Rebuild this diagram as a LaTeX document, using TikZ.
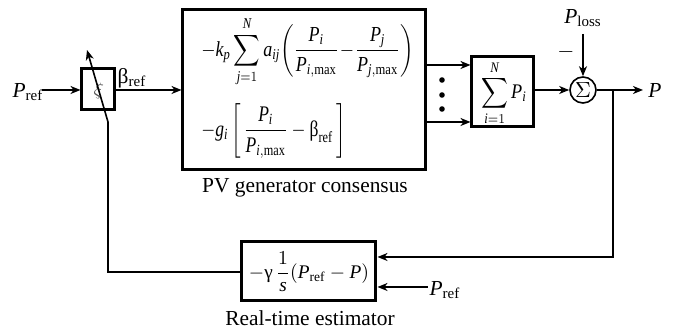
\documentclass[tikz,border=0pt]{standalone}
\usepackage{amsmath}
\usepackage{fontspec}
\setmainfont{Liberation Serif}
\usetikzlibrary{arrows.meta}
\newcommand{\mi}[1]{\mathit{#1}}
\newcommand{\rf}{\mathrm{ref}}
\begin{document}
\begin{tikzpicture}[x=0.5pt,y=-0.5pt,
  font=\fontsize{10.7}{13}\selectfont,
  blk/.style={draw,line width=1.5pt,inner sep=0pt},
  wire/.style={line width=0.8pt},
  arr/.style={wire,-{Stealth[length=5pt,width=4pt,inset=1.5pt]}},
  lbl/.style={inner sep=0pt}]
\useasboundingbox (0,0) rectangle (677,335);
% saturation block
\node[blk,minimum width=16.5pt,minimum height=20.5pt] (sat) at (98.5,89.5) {};
\node[lbl,rotate=-10,font=\fontsize{9}{9}\selectfont,gray!70!black] (xi) at (98.5,91) {$\xi$};
\node[lbl] (pref1) at (28,92) {$\mi{P}_{\rf}$};
\coordinate (pin) at (42,90);
\draw[arr] (pin) -- (sat.west |- pin);
\node[lbl] (bref) at (132,78) {β$_{\rf}$};
% big box
\node[blk,minimum width=121.5pt,minimum height=80pt] (pv) at (304.5,90) {};
\node[lbl,anchor=west,xscale=0.84,yscale=1.0] (eq1) at (201,52) {$-\mi{k}_{\mi{p}}\displaystyle\sum_{\mi{j}=1}^{\mi{N}}\mi{a}_{\mi{ij}}\!\left(\frac{\mi{P}_{\mi{i}}}{\mi{P}_{\mi{i},\max}}\!-\!\frac{\mi{P}_{\mi{j}}}{\mi{P}_{\mi{j},\max}}\right)$};
\node[lbl,anchor=west,xscale=0.82,yscale=1.04] (eq2) at (201,131) {$-\mi{g}_{\mi{i}}\left[\,\dfrac{\mi{P}_{\mi{i}}}{\mi{P}_{\mi{i},\max}}-\text{β}_{\rf}\,\right]$};
\node[lbl] (pvl) at (305,188) {PV generator consensus};
\coordinate (bin) at (98.5,90);
\draw[arr] (sat.east |- bin) -- (pv.west |- bin);
% sum box
\node[blk,minimum width=31pt,minimum height=35pt] (sb) at (503,92) {};
\node[lbl,xscale=0.85,yscale=0.97] (sbt) at (504,93) {$\displaystyle\sum_{\mi{i}=1}^{\mi{N}}\mi{P}_{\mi{i}}$};
\coordinate (o1) at (426,65);
\coordinate (o2) at (426,122);
\draw[arr] (o1) -- (sb.west |- o1);
\draw[arr] (o2) -- (sb.west |- o2);
\foreach \yy/\nm in {80/d1,95/d2,109/d3}{\fill (442,\yy) circle (1.4pt);}
% sum circle
\node[draw,circle,line width=0.8pt,minimum size=13pt,inner sep=0pt] (sc) at (583,90) {$\Sigma$};
\coordinate (sbo) at (534,90);
\draw[arr] (sbo) -- (sc.west);
\node[lbl] (ploss) at (583,18) {$\mi{P}_{\mathrm{loss}}$};
\coordinate (pl) at (583,34);
\draw[arr] (pl) -- (sc.north);
\node[lbl] (minus) at (566,52) {$-$};
\coordinate (pout) at (643,90);
\draw[arr] (sc.east) -- (pout);
\node[lbl] (P) at (655,91) {$\mi{P}$};
\coordinate (br) at (613,90);
% estimator
\node[blk,minimum width=67pt,minimum height=29.5pt] (est) at (309,271.5) {};
\node[lbl,scale=0.9] (estt) at (309,272) {$-\text{γ}\,\dfrac{1}{\mi{s}}(\mi{P}_{\rf}-\mi{P})$};
\node[lbl] (estl) at (310,318) {Real-time estimator};
\coordinate (fb1) at (613,257);
\draw[arr] (br) -- (fb1) -- (est.east |- fb1);
\node[lbl] (pref2) at (445,290) {$\mi{P}_{\rf}$};
\coordinate (pr2) at (428,287);
\draw[arr] (pr2) -- (est.east |- pr2);
% feedback to saturation
\coordinate (c1) at (108,272);
\coordinate (c2) at (108,122);
\coordinate (c3) at (87,50);
\draw[wire] (est.west |- c1) -- (c1) -- (c2);
\draw[arr] (c2) -- (c3);
\end{tikzpicture}
\end{document}
